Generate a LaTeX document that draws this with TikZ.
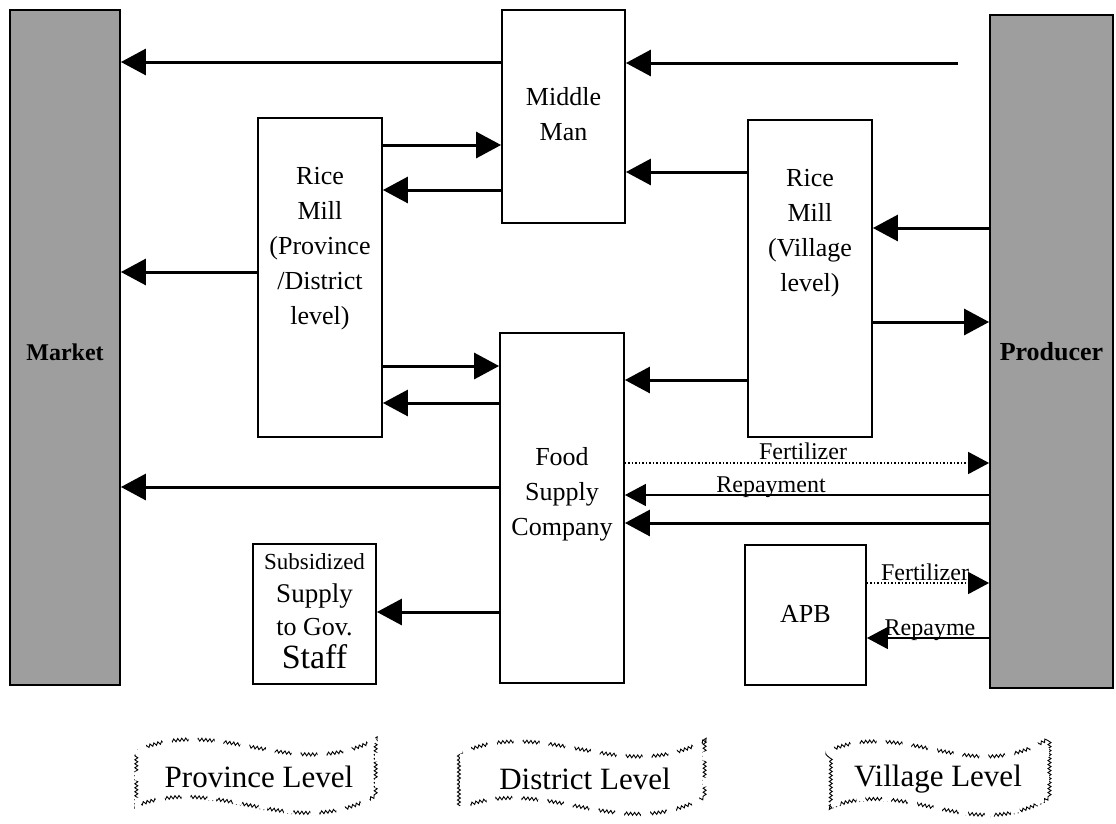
\documentclass[tikz,border=0pt]{standalone}
\usepackage{fontspec}
\setmainfont{Liberation Serif}
\usetikzlibrary{arrows.meta,decorations.pathmorphing}
\begin{document}
\begin{tikzpicture}[x=1pt,y=-1pt,
  box/.style={draw,line width=1.8pt,fill=white,inner sep=0pt,rectangle},
  shadebox/.style={draw,line width=1.8pt,fill=black!38,inner sep=0pt,rectangle},
  txt/.style={align=center,font=\fontsize{26}{35}\selectfont,inner sep=0pt},
  big/.style={line width=3pt,-{Triangle[length=25pt,width=26pt]}},
  thinarr/.style={line width=1.5pt,-{Triangle[length=21pt,width=22pt]}},
  dotarr/.style={line width=1.5pt,dotted,-{Triangle[length=21pt,width=22pt]}},
  lab/.style={font=\fontsize{24}{28}\selectfont,anchor=base,inner sep=0pt},
  banner/.style={line width=0.9pt,decorate,decoration={snake,amplitude=1.5pt,segment length=4pt}},
  gaps/.style={draw=white,line width=6pt,dash pattern=on 9pt off 17pt},
  bantxt/.style={font=\fontsize{31}{36}\selectfont,inner sep=0pt}
]
\useasboundingbox (0,0) rectangle (1116,823);

% side blocks
\node[shadebox,minimum width=110pt,minimum height=675pt] (market) at (65,347.5) {};
\node[font=\bfseries\fontsize{24}{28}\selectfont,inner sep=0pt] (marketlab) at (65,352) {Market};
\node[shadebox,minimum width=123pt,minimum height=673pt] (producer) at (1051.5,351.5) {};
\node[font=\bfseries\fontsize{26}{30}\selectfont,inner sep=0pt] (producerlab) at (1051.5,352) {Producer};

% boxes
\node[box,minimum width=123pt,minimum height=213pt] (mm) at (563.5,116.5) {};
\node[txt] (mmlab) at (563.5,114) {Middle\\Man};
\node[box,minimum width=124pt,minimum height=319pt] (rmp) at (320,277.5) {};
\node[txt] (rmplab) at (320,249) {Rice\\Mill\\(Province\\/District\\level)};
\node[box,minimum width=124pt,minimum height=317pt] (rmv) at (810,278.5) {};
\node[txt] (rmvlab) at (810,233) {Rice\\Mill\\(Village\\level)};
\node[box,minimum width=124pt,minimum height=350pt] (food) at (562,508) {};
\node[txt] (foodlab) at (562,494) {Food\\Supply\\Company};
\node[box,minimum width=123pt,minimum height=140pt] (sub) at (314.5,614) {};
\node[align=center,inner sep=0pt,font=\fontsize{26}{33}\selectfont] (sublab) at (314.5,611)
  {{\fontsize{23}{33}\selectfont Subsidized}\\{\fontsize{27}{33}\selectfont Supply}\\{\fontsize{26}{33}\selectfont to Gov.}\\{\fontsize{34}{33}\selectfont Staff}};
\node[box,minimum width=121pt,minimum height=140pt] (apb) at (805.5,615) {};
\node[txt] (apblab) at (805.5,614) {APB};

% connectors
\coordinate (src) at (958,63);
\draw[big] (mm.west |- 0,62) -- (market.east |- 0,62);
\draw[big] (src) -- (mm.east |- src);
\draw[big] (rmp.east |- 0,145) -- (mm.west |- 0,145);
\draw[big] (mm.west |- 0,190) -- (rmp.east |- 0,190);
\draw[big] (rmv.west |- 0,172) -- (mm.east |- 0,172);
\draw[big] (rmp.west |- 0,272) -- (market.east |- 0,272);
\draw[big] (producer.west |- 0,228) -- (rmv.east |- 0,228);
\draw[big] (rmv.east |- 0,322) -- (producer.west |- 0,322);
\draw[big] (rmp.east |- 0,366) -- (food.west |- 0,366);
\draw[big] (food.west |- 0,403) -- (rmp.east |- 0,403);
\draw[big] (rmv.west |- 0,380) -- (food.east |- 0,380);
\draw[dotarr] (food.east |- 0,463) -- (producer.west |- 0,463);
\node[lab] (fert1) at (803,459) {Fertilizer};
\draw[thinarr] (producer.west |- 0,495) -- (food.east |- 0,495);
\node[lab] (rep1) at (771,492) {Repayment};
\draw[big] (producer.west |- 0,523) -- (food.east |- 0,523);
\draw[big] (food.west |- 0,487) -- (market.east |- 0,487);
\draw[big] (food.west |- 0,612) -- (sub.east |- 0,612);
\draw[dotarr] (apb.east |- 0,583) -- (producer.west |- 0,583);
\node[lab] (fert2) at (925,580) {Fertilizer};
\draw[thinarr] (producer.west |- 0,638) -- (apb.east |- 0,638);
\node[lab] (rep2) at (930,635) {Repayme};

% banners
\draw[banner] (138,750) .. controls (222,715) and (294,785) .. (378,738) -- (378,795)
  .. controls (294,842) and (222,772) .. (138,805) -- cycle;
\draw[gaps] (138,750) .. controls (222,715) and (294,785) .. (378,738) -- (378,795)
  .. controls (294,842) and (222,772) .. (138,805) -- cycle;
\node[bantxt] (prov) at (259,777) {Province Level};
\draw[banner] (463,752) .. controls (548,717) and (621,787) .. (706,740) -- (706,797)
  .. controls (621,844) and (548,774) .. (463,807) -- cycle;
\draw[gaps] (463,752) .. controls (548,717) and (621,787) .. (706,740) -- (706,797)
  .. controls (621,844) and (548,774) .. (463,807) -- cycle;
\node[bantxt] (dist) at (585,779) {District Level};
\draw[banner] (826,752) .. controls (903,717) and (969,787) .. (1046,740) -- (1046,797)
  .. controls (969,844) and (903,774) .. (826,807) -- cycle;
\draw[gaps] (826,752) .. controls (903,717) and (969,787) .. (1046,740) -- (1046,797)
  .. controls (969,844) and (903,774) .. (826,807) -- cycle;
\node[bantxt] (vill) at (938,779) {Village Level};
\end{tikzpicture}
\end{document}
